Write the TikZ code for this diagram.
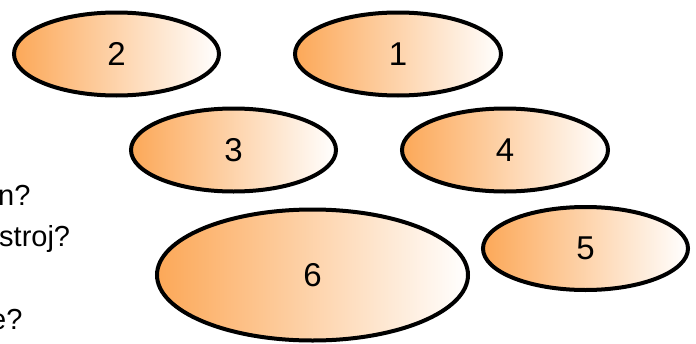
\documentclass[tikz,border=0pt]{standalone}
\usepackage{fontspec}
\setmainfont{Liberation Sans}
\usetikzlibrary{shapes.geometric}
\definecolor{ovorange}{RGB}{252,168,88}
\tikzset{
  oval/.style={ellipse, draw=black, line width=4pt, inner sep=0pt,
    left color=ovorange, right color=white,
    font=\fontsize{33}{38}\selectfont},
  cuttext/.style={anchor=base west, inner sep=0pt, font=\fontsize{29}{34}\selectfont}
}
\begin{document}
\begin{tikzpicture}[x=1pt, y=-1pt]
\useasboundingbox (0,0) rectangle (696,343);
\node[cuttext] (t1) at (-2,205) {n?};
\node[cuttext] (t2) at (-1,246) {stroj?};
\node[cuttext] (t3) at (-10,329) {e?};
\node[oval, minimum width=205pt, minimum height=83pt] (e2) at (116.5,54) {2};
\node[oval, minimum width=206pt, minimum height=83pt] (e1) at (398,54) {1};
\node[oval, minimum width=205pt, minimum height=83pt] (e3) at (233.5,150) {3};
\node[oval, minimum width=206pt, minimum height=83pt] (e4) at (505,150) {4};
\node[oval, minimum width=205pt, minimum height=83pt] (e5) at (585.5,248.5) {5};
\node[oval, minimum width=311pt, minimum height=131pt] (e6) at (312.5,275) {6};
\end{tikzpicture}
\end{document}
